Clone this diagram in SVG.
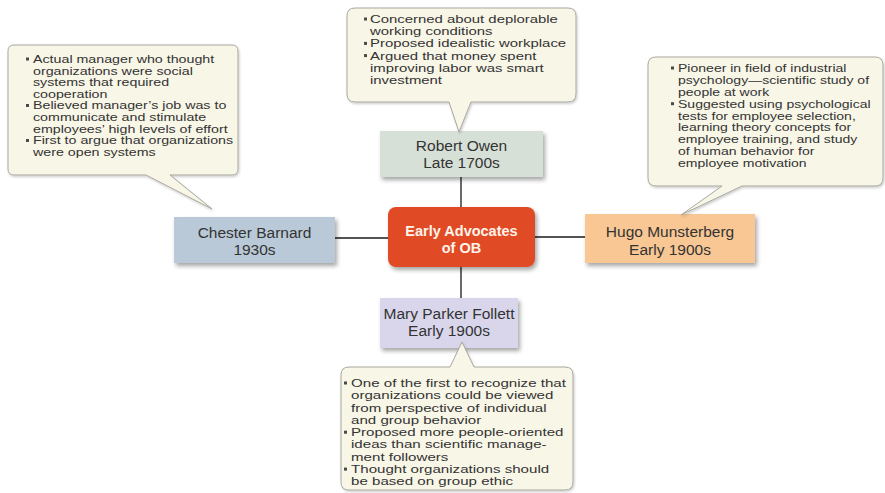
<svg xmlns="http://www.w3.org/2000/svg" width="885" height="493" viewBox="0 0 885 493">
<defs>
<filter id="sh" x="-10%" y="-10%" width="125%" height="140%">
<feDropShadow dx="2" dy="3" stdDeviation="2" flood-color="#000" flood-opacity="0.35"/>
</filter>
<filter id="bsh" x="-5%" y="-5%" width="112%" height="120%">
<feDropShadow dx="1" dy="1.5" stdDeviation="1.2" flood-color="#000" flood-opacity="0.2"/>
</filter>
<style>
.bub{fill:#f8f6e7;stroke:#a8a79e;stroke-width:1;filter:url(#bsh)}
.bt{font-family:"Liberation Sans",Arial,sans-serif;font-size:10.8px;fill:#333}
.bl{fill:#4a4a4a}
.nl{font-family:"Liberation Sans",Arial,sans-serif;font-size:15.5px;fill:#333;text-anchor:middle}
.cl{font-family:"Liberation Sans",Arial,sans-serif;font-size:14.5px;font-weight:bold;fill:#fff3ea;text-anchor:middle}
.con{stroke:#1a1a1a;stroke-width:1.3;fill:none}
</style>
</defs>
<rect width="885" height="493" fill="#ffffff"/>

<g id="connectors">
<line class="con" x1="461" y1="177" x2="461" y2="207"/>
<line class="con" x1="461" y1="267" x2="461" y2="298"/>
<line class="con" x1="335" y1="238" x2="388" y2="238"/>
<line class="con" x1="535" y1="237" x2="585" y2="237"/>
</g>

<g id="center">
<rect x="388" y="207" width="147" height="60" rx="8" fill="#e04b26" filter="url(#sh)"/>
<text class="cl" x="461.5" y="236">Early Advocates</text>
<text class="cl" x="461.5" y="253">of OB</text>
</g>

<g id="robert-owen">
<rect x="380" y="131" width="163" height="46" fill="#d6e0d7" filter="url(#sh)"/>
<text class="nl" x="461.5" y="151">Robert Owen</text>
<text class="nl" x="461.5" y="168">Late 1700s</text>
</g>

<g id="chester-barnard">
<rect x="174" y="217" width="161" height="46" fill="#b9c9d7" filter="url(#sh)"/>
<text class="nl" x="254.5" y="238">Chester Barnard</text>
<text class="nl" x="254.5" y="255">1930s</text>
</g>

<g id="hugo-munsterberg">
<rect x="585" y="214" width="170" height="49" fill="#f8c793" filter="url(#sh)"/>
<text class="nl" x="670" y="237">Hugo Munsterberg</text>
<text class="nl" x="670" y="255">Early 1900s</text>
</g>

<g id="mary-parker-follett">
<rect x="380" y="298" width="138" height="50" fill="#d9d6ec" filter="url(#sh)"/>
<text class="nl" x="449" y="319">Mary Parker Follett</text>
<text class="nl" x="449" y="336">Early 1900s</text>
</g>

<g id="bubble-barnard">
<path class="bub" d="M14,45 H232 Q238,45 238,51 V169 Q238,175 232,175 H170 L212,209 L146,175 H14 Q8,175 8,169 V51 Q8,45 14,45 Z"/>
<rect class="bl" x="26" y="57.5" width="3" height="3"/>
<rect class="bl" x="26" y="104" width="3" height="3"/>
<rect class="bl" x="26" y="139" width="3" height="3"/>
<g transform="translate(33,0) scale(1.32,1)">
<text class="bt" x="0" y="63">Actual manager who thought</text>
<text class="bt" x="0" y="74.6">organizations were social</text>
<text class="bt" x="0" y="86.2">systems that required</text>
<text class="bt" x="0" y="97.8">cooperation</text>
<text class="bt" x="0" y="109.4">Believed manager’s job was to</text>
<text class="bt" x="0" y="121">communicate and stimulate</text>
<text class="bt" x="0" y="132.6">employees’ high levels of effort</text>
<text class="bt" x="0" y="144.2">First to argue that organizations</text>
<text class="bt" x="0" y="155.8">were open systems</text>
</g>
</g>

<g id="bubble-owen">
<path class="bub" d="M355,8 H568 Q576,8 576,16 V94 Q576,102 568,102 H471 L459,132 L449,102 H355 Q347,102 347,94 V16 Q347,8 355,8 Z"/>
<rect class="bl" x="364" y="17.5" width="3" height="3"/>
<rect class="bl" x="364" y="41.9" width="3" height="3"/>
<rect class="bl" x="364" y="54.1" width="3" height="3"/>
<g transform="translate(370,0) scale(1.38,1)">
<text class="bt" x="0" y="23">Concerned about deplorable</text>
<text class="bt" x="0" y="35.2">working conditions</text>
<text class="bt" x="0" y="47.4">Proposed idealistic workplace</text>
<text class="bt" x="0" y="59.6">Argued that money spent</text>
<text class="bt" x="0" y="71.8">improving labor was smart</text>
<text class="bt" x="0" y="84">investment</text>
</g>
</g>

<g id="bubble-munsterberg">
<path class="bub" d="M656,57 H875 Q883,57 883,65 V178 Q883,186 875,186 H742 L681,215 L722,186 H656 Q648,186 648,178 V65 Q648,57 656,57 Z"/>
<rect class="bl" x="671" y="66.5" width="3" height="3"/>
<rect class="bl" x="671" y="102.2" width="3" height="3"/>
<g transform="translate(678,0) scale(1.3,1)">
<text class="bt" x="0" y="72">Pioneer in field of industrial</text>
<text class="bt" x="0" y="83.9">psychology—scientific study of</text>
<text class="bt" x="0" y="95.8">people at work</text>
<text class="bt" x="0" y="107.7">Suggested using psychological</text>
<text class="bt" x="0" y="119.6">tests for employee selection,</text>
<text class="bt" x="0" y="131.5">learning theory concepts for</text>
<text class="bt" x="0" y="143.4">employee training, and study</text>
<text class="bt" x="0" y="155.3">of human behavior for</text>
<text class="bt" x="0" y="167.2">employee motivation</text>
</g>
</g>

<g id="bubble-follett">
<path class="bub" d="M349,367 H450 L462,342 L474,367 H565 Q573,367 573,375 V482 Q573,490 565,490 H349 Q341,490 341,482 V375 Q341,367 349,367 Z"/>
<rect class="bl" x="344" y="381.5" width="3" height="3"/>
<rect class="bl" x="344" y="430.7" width="3" height="3"/>
<rect class="bl" x="344" y="467.6" width="3" height="3"/>
<g transform="translate(351,0) scale(1.4,1)">
<text class="bt" x="0" y="387">One of the first to recognize that</text>
<text class="bt" x="0" y="399.3">organizations could be viewed</text>
<text class="bt" x="0" y="411.6">from perspective of individual</text>
<text class="bt" x="0" y="423.9">and group behavior</text>
<text class="bt" x="0" y="436.2">Proposed more people-oriented</text>
<text class="bt" x="0" y="448.5">ideas than scientific manage-</text>
<text class="bt" x="0" y="460.8">ment followers</text>
<text class="bt" x="0" y="473.1">Thought organizations should</text>
<text class="bt" x="0" y="485.4">be based on group ethic</text>
</g>
</g>
</svg>
